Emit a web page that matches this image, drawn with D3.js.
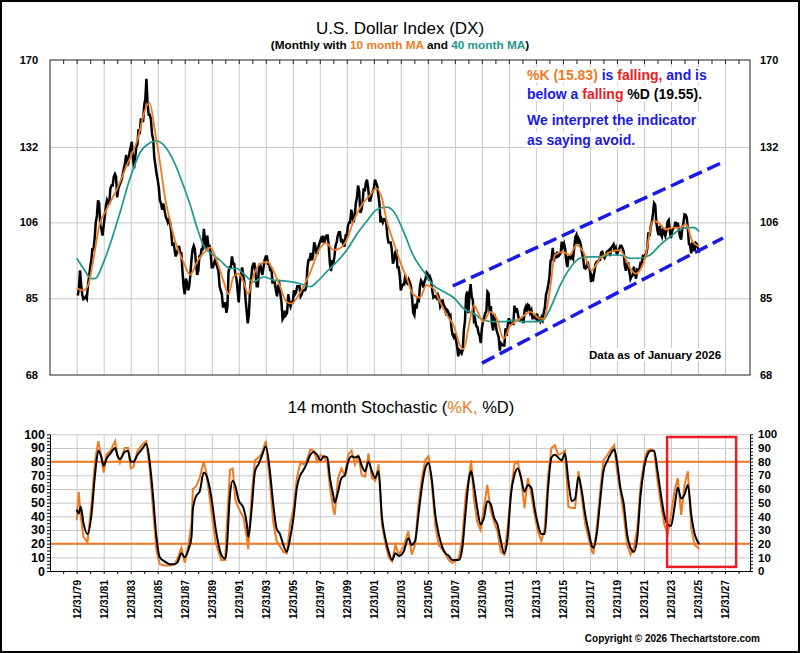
<!DOCTYPE html>
<html>
<head>
<meta charset="utf-8">
<script src="https://d3js.org/d3.v7.min.js"></script>
<style>
body { margin: 0; background: #fff; }
svg { display: block; font-family: "Liberation Sans", Arial, sans-serif; }
</style>
</head>
<body>
<svg width="800" height="653"></svg>
<script>
// monthly closes, Jan 1980 .. Jan 2026
const closes = [
	85.7, 87.5, 92.2, 88.5, 85.8, 84.8, 85.0, 85.4, 84.9, 88.2, 90.5, 93.0, // 1980
	95, 98, 98, 101, 106, 108, 113, 112, 105, 104, 102, 105,
	108, 111, 113, 112, 112, 117, 118, 118, 121, 122, 121, 114,
	117, 118, 119, 120, 122, 124, 126, 129, 125, 126, 130, 132,
	134, 128, 124, 128, 132, 133, 139, 137, 143, 143, 142, 149,
	152, 161, 150, 145, 145, 143, 137, 135, 128, 125, 122, 120, // 1985
	117, 113, 112, 110, 112, 110, 108, 107, 106, 107, 106, 103,
	99, 100, 98, 96, 97, 98, 99, 97, 97, 92, 88, 86,
	90, 89, 87, 88, 91, 95, 98, 99, 98, 94, 91, 92,
	96, 96, 98, 98, 104, 101, 98, 102, 99, 99, 97, 93,
	93, 94, 95, 94, 93, 92, 88, 87, 86, 83, 83, 84, // 1990
	81.5, 83, 92, 93, 93, 96, 94, 94, 91, 90, 87, 84,
	89, 91, 93, 91, 89, 85, 82, 79, 81, 87, 90, 93,
	94, 94, 91, 88, 88, 93, 94, 92, 91, 93, 95, 96,
	96, 94, 94, 92, 93, 89, 89, 89, 87, 85.5, 88, 88.7,
	86, 84, 80, 80.5, 82, 81, 81.5, 86, 84, 83, 84, 84, // 1995
	87, 86, 86.5, 88, 88, 88, 85.5, 86, 87, 87, 87, 88,
	93, 95, 95, 97, 95, 96, 100, 99, 97, 97, 99, 100,
	101, 100, 102, 100, 101, 102, 102, 99, 94, 92, 95, 94,
	96, 99, 100, 102, 103, 103, 100, 101, 99, 99, 102, 101.9,
	105, 106, 106, 110, 108, 106, 108, 112, 114, 118, 116, 109, // 2000
	110, 112, 117, 116, 119, 120, 117, 113, 113, 115, 116, 117,
	120, 119, 118, 115, 112, 106, 107, 106, 107, 107, 106, 102,
	100, 100, 100, 98, 94, 95, 97, 98, 93, 93, 91, 87,
	88, 88.5, 88.5, 91, 89, 88.7, 89.7, 89, 88, 85, 81.5, 80.9,
	83.7, 82.5, 84.6, 84.4, 88, 89.5, 89, 87.7, 89.2, 90, 91.6, 91.2, // 2005
	89.5, 90.4, 89.6, 86.8, 85.2, 85.5, 85.5, 85, 85.8, 85, 83, 83.7,
	84.7, 83.4, 82.9, 81.6, 82.2, 81.9, 80.6, 80.9, 78, 76.4, 75.9, 76.7,
	75.3, 73.9, 71.8, 73.1, 72.8, 72.4, 73.2, 77.5, 79.6, 85.6, 86.7, 81.4,
	86.2, 88.6, 85.4, 84.6, 79.6, 80, 78.4, 78.2, 76.8, 76.2, 74.6, 77.9,
	79.5, 80.3, 81.4, 81.8, 86.6, 86.2, 81.5, 83.1, 78.9, 77.4, 81.2, 79.1, // 2010
	77.5, 76.7, 75.9, 73, 74.6, 74.3, 74.1, 74.1, 77.9, 76.2, 78.6, 80.2,
	79.4, 78.8, 79, 78.9, 83.2, 81.6, 82.6, 81.2, 79.8, 79.8, 80.1, 79.8,
	79.1, 82.1, 82.9, 81.8, 83.4, 83.2, 81.5, 82.1, 80.2, 80.2, 80.7, 80.2,
	81.3, 79.8, 80.1, 79.5, 80.4, 79.8, 81.5, 82.8, 85.9, 86.9, 88.4, 90.3,
	94.8, 95.3, 98.4, 94.6, 96.9, 95.5, 97.3, 96.1, 96.4, 97, 100.2, 98.7, // 2015
	99.6, 98.2, 94.6, 93.1, 95.9, 96.1, 95.5, 96, 95.4, 98.4, 101.5, 102.2,
	99.5, 101.1, 100.4, 99.1, 97, 95.6, 92.9, 92.7, 93.1, 94.5, 93, 92.1,
	89.1, 90.6, 90, 91.8, 93.9, 94.5, 94.5, 95.1, 95.1, 97.1, 97.3, 96.2,
	95.6, 96.2, 97.3, 97.5, 97.8, 96.1, 98.5, 98.9, 99.4, 97.4, 98.3, 96.4,
	97.4, 98.1, 99, 99, 98.3, 97.4, 93.4, 92.1, 93.9, 94, 91.9, 89.9, // 2020
	90.6, 90.9, 93.2, 91.3, 90, 92.4, 92.2, 92.6, 94.2, 94.1, 96, 95.7,
	96.5, 96.7, 98.3, 103, 101.8, 104.7, 105.9, 108.7, 112.1, 111.5, 105.9, 103.5,
	102.1, 104.9, 102.5, 101.7, 104.3, 102.9, 101.9, 103.6, 106.2, 106.7, 103.5, 101.3,
	103.3, 104.2, 104.5, 106.2, 104.6, 105.9, 104.1, 101.7, 100.8, 104, 105.7, 108.5,
	108.4, 107.6, 104.2, 99.5, 99.3, 96.9, 100, 97.8, 97.8, 99.8, 99.5, 98.3, // 2025
	97.0
];

// 10 month moving average
const ma10Years = [1980.0, 1980.5, 1980.85, 1981.2, 1981.7, 1982.2, 1983.0, 1983.7, 1984.45, 1985.2,
	1985.4, 1985.8, 1986.2, 1986.5, 1986.9, 1987.4, 1987.9, 1988.4, 1988.9, 1989.4,
	1989.9, 1990.4, 1990.9, 1991.25, 1991.6, 1992.0, 1992.35, 1992.7, 1993.1, 1993.6,
	1994.1, 1994.6, 1995.05, 1995.55, 1995.9, 1996.5, 1997.3, 1998.0, 1998.5, 1999.0,
	1999.5, 2000.0, 2000.5, 2001.1, 2001.7, 2002.2, 2002.6, 2002.95, 2003.45, 2003.95,
	2004.45, 2004.9, 2005.4, 2005.9, 2006.4, 2006.9, 2007.4, 2007.9, 2008.4, 2008.65,
	2009.0, 2009.4, 2009.75, 2010.1, 2010.6, 2011.1, 2011.6, 2012.1, 2012.45, 2012.8,
	2013.6, 2014.3, 2014.55, 2015.05, 2015.4, 2016.0, 2016.5, 2017.0, 2017.5, 2018.1,
	2018.75, 2019.5, 2020.2, 2021.0, 2021.35, 2022.0, 2022.7, 2023.05, 2023.6, 2024.2,
	2024.7, 2025.1, 2025.6, 2026.08];
const ma10 = [87.5, 87, 88.3, 94.5, 105.5, 110, 117, 125, 134, 149,
	150, 138, 125, 115, 106.5, 99, 94.5, 91, 94.5, 97,
	98.5, 94.5, 89, 86, 90.5, 91.3, 89.2, 86, 91, 94,
	94.5, 91.8, 88, 84.1, 83.7, 86.2, 91.8, 98.3, 99.8, 97.8,
	98.3, 100.8, 106.5, 111.5, 114.7, 117, 113.6, 106.5, 100.2, 94.5,
	90, 86, 85.2, 88.3, 87.5, 84.1, 81, 78.6, 74, 73.3,
	78, 83.3, 81.3, 79.4, 81.7, 80.1, 75.6, 78.5, 79.4, 80.1,
	81.7, 80.1, 80.1, 87.5, 96.4, 97.3, 96.4, 99.3, 97.3, 92.2,
	95.5, 97.3, 97.8, 92.7, 91.3, 94.5, 106.5, 106, 103.9, 104.4,
	104.4, 105.5, 100.2, 98.8];

// 40 month moving average
const ma40Years = [1980.0, 1980.5, 1981.1, 1981.35, 1982.0, 1982.6, 1983.2, 1983.95, 1984.7, 1985.4,
	1985.9, 1986.4, 1987.2, 1987.9, 1988.4, 1988.9, 1989.4, 1990.1, 1990.6, 1991.35,
	1991.85, 1992.35, 1993.1, 1993.85, 1994.6, 1995.05, 1995.8, 1996.5, 1997.3, 1997.8,
	1998.5, 1999.25, 2000.0, 2000.7, 2001.5, 2002.2, 2002.95, 2003.45, 2004.2, 2004.9,
	2005.7, 2006.4, 2007.15, 2007.9, 2008.65, 2009.4, 2010.1, 2010.85, 2011.6, 2012.35,
	2013.07, 2014.05, 2014.55, 2015.05, 2015.8, 2016.5, 2017.25, 2018.0, 2018.75, 2019.5,
	2020.2, 2021.0, 2021.7, 2022.45, 2023.2, 2023.95, 2024.7, 2025.2, 2025.7, 2026.08];
const ma40 = [95.5, 92.7, 90, 90, 94.5, 101, 109, 120.5, 130, 133.5,
	134.4, 133, 126.5, 118, 111.5, 104.5, 99, 96.4, 95, 92.7,
	92.7, 91.3, 89.2, 90.5, 89.6, 89.5, 89.2, 88.7, 87.9, 89.2,
	91.8, 94.5, 97.8, 102.2, 106.5, 110, 110.8, 109.5, 103.2, 96.4,
	91.8, 88.3, 86.7, 85.2, 82.5, 81.3, 79.8, 79.4, 79.4, 79.8,
	79.4, 79.4, 79.8, 82.5, 88.3, 92.7, 95.5, 95.9, 95.9, 96.4,
	96.4, 95.5, 95.5, 96.4, 99.3, 101.7, 103.9, 104.4, 104.4, 103.2];

// 14 month stochastic
const stochYears = [1980.0, 1980.15, 1980.3, 1980.5, 1980.8, 1981.1, 1981.35, 1981.6, 1981.8, 1982.0,
	1982.2, 1982.5, 1982.85, 1983.0, 1983.2, 1983.55, 1983.8, 1984.0, 1984.2, 1984.5,
	1984.9, 1985.15, 1985.4, 1985.65, 1985.9, 1986.15, 1986.5, 1986.9, 1987.25, 1987.5,
	1987.75, 1988.0, 1988.25, 1988.5, 1988.6, 1988.85, 1989.1, 1989.4, 1989.6, 1989.95,
	1990.3, 1990.7, 1991.0, 1991.1, 1991.35, 1991.55, 1991.75, 1991.98, 1992.35, 1992.6,
	1992.7, 1992.95, 1993.2, 1993.45, 1993.7, 1994.0, 1994.3, 1994.55, 1994.8, 1995.05,
	1995.3, 1995.55, 1995.8, 1996.05, 1996.3, 1996.55, 1996.8, 1997.0, 1997.3, 1997.55,
	1997.8, 1998.05, 1998.3, 1998.55, 1998.75, 1999.0, 1999.1, 1999.35, 1999.6, 1999.85,
	2000.1, 2000.35, 2000.6, 2000.85, 2001.1, 2001.35, 2001.6, 2001.85, 2002.1, 2002.35,
	2002.6, 2002.85, 2003.1, 2003.35, 2003.6, 2003.85, 2004.2, 2004.55, 2004.8, 2005.05,
	2005.3, 2005.55, 2005.8, 2006.05, 2006.3, 2006.55, 2006.8, 2007.05, 2007.3, 2007.55,
	2007.8, 2008.05, 2008.3, 2008.55, 2008.8, 2009.05, 2009.2, 2009.4, 2009.65, 2009.9,
	2010.15, 2010.4, 2010.65, 2010.9, 2011.15, 2011.4, 2011.65, 2011.9, 2012.15, 2012.4,
	2012.65, 2012.9, 2013.15, 2013.4, 2013.65, 2013.9, 2014.15, 2014.4, 2014.65, 2014.9,
	2015.15, 2015.4, 2015.65, 2015.9, 2016.15, 2016.4, 2016.65, 2016.9, 2017.15, 2017.4,
	2017.65, 2017.9, 2018.15, 2018.25, 2018.5, 2018.75, 2019.0, 2019.3, 2019.55, 2019.8,
	2020.0, 2020.25, 2020.5, 2020.75, 2021.0, 2021.25, 2021.5, 2021.75, 2022.0, 2022.25,
	2022.5, 2022.75, 2023.0, 2023.25, 2023.5, 2023.75, 2024.0, 2024.25, 2024.5, 2024.75,
	2025.0, 2025.25, 2025.5, 2025.75, 2026.0, 2026.08];
const pctK = [37, 58, 40, 25, 21, 50, 80, 95, 85, 72,
	85, 88, 95, 85, 79, 90, 90, 75, 76, 88,
	93, 95, 75, 45, 15, 5, 4, 4, 5, 10,
	17, 6, 18, 35, 60, 62, 68, 80, 72, 45,
	20, 8, 8, 31, 74, 75, 52, 46, 39, 24,
	16, 56, 81, 83, 86, 95, 66, 36, 22, 18,
	14, 13, 34, 46, 68, 79, 78, 80, 89, 88,
	80, 85, 83, 80, 61, 45, 41, 68, 75, 70,
	85, 88, 78, 85, 70, 69, 86, 68, 66, 78,
	34, 20, 10, 7, 19, 12, 18, 29, 12, 19,
	49, 68, 81, 84, 62, 33, 19, 16, 12, 8,
	6, 7, 10, 24, 56, 69, 81, 53, 36, 30,
	46, 63, 44, 36, 29, 14, 12, 31, 58, 78,
	80, 68, 46, 68, 56, 41, 29, 22, 31, 70,
	90, 92, 85, 86, 88, 47, 46, 46, 73, 53,
	34, 24, 14, 13, 31, 58, 81, 85, 89, 92,
	73, 58, 41, 19, 12, 17, 31, 63, 80, 88,
	89, 88, 66, 49, 34, 27, 41, 58, 68, 41,
	63, 73, 31, 19, 17, 15.83];
const pctD = [45, 42, 47, 35, 27, 42, 70, 88, 84, 77,
	82, 86, 90, 85, 82, 87, 88, 80, 80, 85,
	90, 93, 80, 55, 25, 10, 7, 5, 5, 7,
	13, 10, 15, 25, 45, 55, 58, 72, 70, 55,
	30, 12, 9, 15, 56, 66, 62, 52, 46, 34,
	25, 45, 73, 78, 84, 91, 73, 49, 31, 27,
	19, 14, 24, 39, 61, 70, 74, 78, 85, 87,
	85, 81, 84, 83, 68, 55, 50, 58, 68, 70,
	80, 84, 83, 84, 77, 73, 80, 73, 68, 73,
	39, 24, 14, 8, 13, 11, 14, 24, 19, 22,
	41, 61, 75, 79, 66, 41, 27, 18, 13, 11,
	8, 8, 8, 17, 44, 68, 73, 63, 46, 34,
	39, 51, 49, 39, 34, 22, 13, 24, 56, 70,
	75, 68, 58, 63, 61, 46, 34, 27, 27, 61,
	83, 85, 83, 81, 86, 66, 51, 53, 69, 58,
	41, 29, 18, 17, 27, 51, 73, 81, 86, 89,
	80, 61, 49, 27, 17, 14, 24, 56, 75, 85,
	88, 88, 73, 56, 41, 34, 33, 46, 61, 53,
	56, 63, 41, 27, 21, 19.55];

// trend channel drawn on the price panel
const channelYears = [[2007.84, 2027.85], [2010.0, 2027.85]];
const channelValues = [[88.1, 126.3], [70.4, 101.3]];
// highlight box on the stochastic panel
const boxYears = [2023.71, 2028.82];
const boxValues = [98, 3];

const priceTicks = [68, 85, 106, 132, 170];

const orange = '#f07a22';
const teal = '#1e978c';
const blue = '#1a1ae6';
const red = '#ee1c24';
const grid = '#c8c8c8';
const fontFam = '"Liberation Sans", Arial, sans-serif';

const svg = d3.select('svg');
const width = +svg.attr('width');
const height = +svg.attr('height');

const yearDate = y => {
	const yr = Math.floor(y);
	const a = new Date(yr, 0, 1), b = new Date(yr + 1, 0, 1);
	return new Date(+a + (y - yr) * (b - a));
};
const priceDates = closes.map((c, i) => new Date(1980, i + 1, 0));

const left = 50, right = 750;
const pTop = 60, pBottom = 375;
const sTop = 434.3, sBottom = 571;

const xScale = d3.scaleTime()
	.domain([new Date(1978, 0, 9), new Date(2029, 10, 6)])
	.range([left, right]);
const yPrice = d3.scaleLog().domain([68, 170]).range([pBottom, pTop]);
const yStoch = d3.scaleLinear().domain([0, 100]).range([sBottom, sTop]);

const bienYears = d3.range(1979, 2028, 2).map(y => new Date(y, 11, 31));
const allYears = d3.range(1978, 2029).map(y => new Date(y, 11, 31));

svg.append('rect').attr('width', width).attr('height', height).attr('fill', '#fff');

// titles
svg.append('text')
	.attr('x', 400).attr('y', 34)
	.attr('text-anchor', 'middle')
	.attr('font-size', 17)
	.text('U.S. Dollar Index (DX)');

const sub = svg.append('text')
	.attr('x', 400).attr('y', 49)
	.attr('text-anchor', 'middle')
	.attr('font-size', 11.8)
	.attr('font-weight', 'bold');
sub.append('tspan').text('(Monthly with ');
sub.append('tspan').attr('fill', orange).text('10 month MA');
sub.append('tspan').text(' and ');
sub.append('tspan').attr('fill', teal).text('40 month MA');
sub.append('tspan').text(')');

// ---------- price panel ----------
const gp = svg.append('g');

gp.append('g')
	.attr('transform', `translate(0, ${pBottom})`)
	.call(d3.axisBottom(xScale).tickValues(bienYears).tickSize(-(pBottom - pTop)).tickFormat(''))
	.call(g => g.select('.domain').remove())
	.selectAll('line').attr('stroke', grid);

gp.append('g')
	.attr('transform', `translate(${left}, 0)`)
	.call(d3.axisLeft(yPrice).tickValues([85, 106, 132]).tickSize(-(right - left)).tickFormat(''))
	.call(g => g.select('.domain').remove())
	.selectAll('line').attr('stroke', grid);

gp.append('rect')
	.attr('x', left).attr('y', pTop)
	.attr('width', right - left).attr('height', pBottom - pTop)
	.attr('fill', 'none').attr('stroke', '#222');

gp.append('g')
	.attr('transform', `translate(0, ${pTop})`)
	.call(d3.axisTop(xScale).tickValues(allYears).tickSizeInner(-4).tickSizeOuter(0).tickFormat(''))
	.call(g => g.select('.domain').remove())
	.selectAll('line').attr('stroke', '#222');

gp.append('g')
	.attr('transform', `translate(${left}, 0)`)
	.call(d3.axisLeft(yPrice).tickValues(priceTicks).tickSize(0).tickPadding(12).tickFormat(d3.format('d')))
	.call(g => g.select('.domain').remove())
	.selectAll('text').attr('font-family', fontFam).attr('font-size', 11).attr('font-weight', 'bold');

gp.append('g')
	.attr('transform', `translate(${right}, 0)`)
	.call(d3.axisRight(yPrice).tickValues(priceTicks).tickSize(0).tickPadding(10).tickFormat(d3.format('d')))
	.call(g => g.select('.domain').remove())
	.selectAll('text').attr('font-family', fontFam).attr('font-size', 11).attr('font-weight', 'bold');

const priceLine = d3.line()
	.x((d, i) => xScale(priceDates[i]))
	.y(d => yPrice(d));
gp.append('path')
	.datum(closes)
	.attr('d', priceLine)
	.attr('fill', 'none').attr('stroke', '#000').attr('stroke-width', 2.5);

const maLine = years => d3.line()
	.x((d, i) => xScale(yearDate(years[i])))
	.y(d => yPrice(d))
	.curve(d3.curveMonotoneX);

gp.append('path')
	.datum(ma40)
	.attr('d', maLine(ma40Years))
	.attr('fill', 'none').attr('stroke', teal).attr('stroke-width', 1.7);

gp.append('path')
	.datum(ma10)
	.attr('d', maLine(ma10Years))
	.attr('fill', 'none').attr('stroke', orange).attr('stroke-width', 1.8);

channelYears.forEach((yrs, k) => {
	gp.append('path')
		.datum(channelValues[k])
		.attr('d', d3.line().x((d, i) => xScale(yearDate(yrs[i]))).y(d => yPrice(d)))
		.attr('fill', 'none').attr('stroke', blue)
		.attr('stroke-width', 3.5).attr('stroke-dasharray', '14,6');
});

// annotation lines, each on its own white strip
const noteLines = [
	[['%K (15.83)', orange], [' is ', blue], ['falling,', red], [' and is', blue]],
	[['below a ', blue], ['falling', red], [' %D (19.55).', '#000']],
	[['We interpret the indicator', blue]],
	[['as saying avoid.', blue]]
];
const noteY = [80, 98.5, 125, 144.5];
noteLines.forEach((parts, k) => {
	const g = gp.append('g');
	const t = g.append('text')
		.attr('x', 527).attr('y', noteY[k])
		.attr('font-size', 14).attr('font-weight', 'bold');
	parts.forEach(p => t.append('tspan').attr('fill', p[1]).text(p[0]));
	const bb = t.node().getBBox();
	g.insert('rect', 'text')
		.attr('x', bb.x - 2).attr('y', bb.y)
		.attr('width', bb.width + 4).attr('height', bb.height)
		.attr('fill', '#fff');
});

const asOf = gp.append('g');
const asOfText = asOf.append('text')
	.attr('x', 589).attr('y', 359)
	.attr('font-size', 11.6).attr('font-weight', 'bold')
	.text('Data as of January 2026');
const ab = asOfText.node().getBBox();
asOf.insert('rect', 'text')
	.attr('x', ab.x - 2).attr('y', ab.y).attr('width', ab.width + 4).attr('height', ab.height)
	.attr('fill', '#fff');

// ---------- stochastic panel ----------
const gs = svg.append('g');

const st = gs.append('text')
	.attr('x', 401).attr('y', 412.5)
	.attr('text-anchor', 'middle')
	.attr('font-size', 16.5);
st.append('tspan').text('14 month Stochastic (');
st.append('tspan').attr('fill', orange).text('%K,');
st.append('tspan').text(' %D)');

gs.append('g')
	.attr('transform', `translate(0, ${sBottom})`)
	.call(d3.axisBottom(xScale).tickValues(bienYears).tickSize(-(sBottom - sTop)).tickFormat(''))
	.call(g => g.select('.domain').remove())
	.selectAll('line').attr('stroke', grid);

gs.append('g')
	.attr('transform', `translate(${left}, 0)`)
	.call(d3.axisLeft(yStoch).tickValues(d3.range(10, 101, 10)).tickSize(-(right - left)).tickFormat(''))
	.call(g => g.select('.domain').remove())
	.selectAll('line').attr('stroke', grid);

[20, 80].forEach(v => {
	gs.append('line')
		.attr('x1', left).attr('x2', right)
		.attr('y1', yStoch(v)).attr('y2', yStoch(v))
		.attr('stroke', orange).attr('stroke-width', 2);
});

const stochLine = d3.line()
	.x((d, i) => xScale(yearDate(stochYears[i])))
	.y(d => yStoch(d));

gs.append('path')
	.datum(pctK)
	.attr('d', stochLine)
	.attr('fill', 'none').attr('stroke', orange).attr('stroke-width', 2);

gs.append('path')
	.datum(pctD)
	.attr('d', stochLine.curve(d3.curveMonotoneX))
	.attr('fill', 'none').attr('stroke', '#000').attr('stroke-width', 2);

const minorTicks = d3.range(0, 100.1, 2.5);

gs.append('g')
	.attr('transform', `translate(${left}, 0)`)
	.call(d3.axisLeft(yStoch).tickValues(minorTicks).tickSize(3).tickSizeOuter(0).tickPadding(2)
		.tickFormat(d => d % 10 === 0 ? d : ''))
	.call(g => g.selectAll('text').attr('font-family', fontFam).attr('font-size', 12.5).attr('font-weight', 'bold'));

gs.append('g')
	.attr('transform', `translate(${right}, 0)`)
	.call(d3.axisRight(yStoch).tickValues(minorTicks).tickSize(3).tickSizeOuter(0).tickPadding(5)
		.tickFormat(d => d % 10 === 0 ? d : ''))
	.call(g => g.selectAll('text').attr('font-family', fontFam).attr('font-size', 11.5).attr('font-weight', 'bold'));

gs.append('g')
	.attr('transform', `translate(0, ${sBottom})`)
	.call(d3.axisBottom(xScale).tickValues(allYears).tickSize(3).tickSizeOuter(0).tickFormat(''));

gs.append('g')
	.attr('transform', `translate(0, ${sBottom})`)
	.call(d3.axisBottom(xScale).tickValues(bienYears).tickSize(0).tickFormat(d3.timeFormat('%m/%d/%y')))
	.call(g => g.select('.domain').remove())
	.selectAll('text')
		.attr('font-family', fontFam).attr('font-size', 10).attr('font-weight', 'bold')
		.attr('transform', 'rotate(-90)')
		.attr('text-anchor', 'end')
		.attr('x', -9).attr('y', 0).attr('dy', '0.35em');

gs.append('rect')
	.attr('x', xScale(yearDate(boxYears[0])))
	.attr('y', yStoch(boxValues[0]))
	.attr('width', xScale(yearDate(boxYears[1])) - xScale(yearDate(boxYears[0])))
	.attr('height', yStoch(boxValues[1]) - yStoch(boxValues[0]))
	.attr('fill', 'none').attr('stroke', red).attr('stroke-width', 2.5);

svg.append('text')
	.attr('x', 760).attr('y', 641.5)
	.attr('text-anchor', 'end')
	.attr('font-size', 10).attr('font-weight', 'bold')
	.text('Copyright \u00a9 2026 Thechartstore.com');

svg.append('rect')
	.attr('x', 1).attr('y', 1).attr('width', width - 2).attr('height', height - 2)
	.attr('fill', 'none').attr('stroke', '#000').attr('stroke-width', 2);
</script>
</body>
</html>
